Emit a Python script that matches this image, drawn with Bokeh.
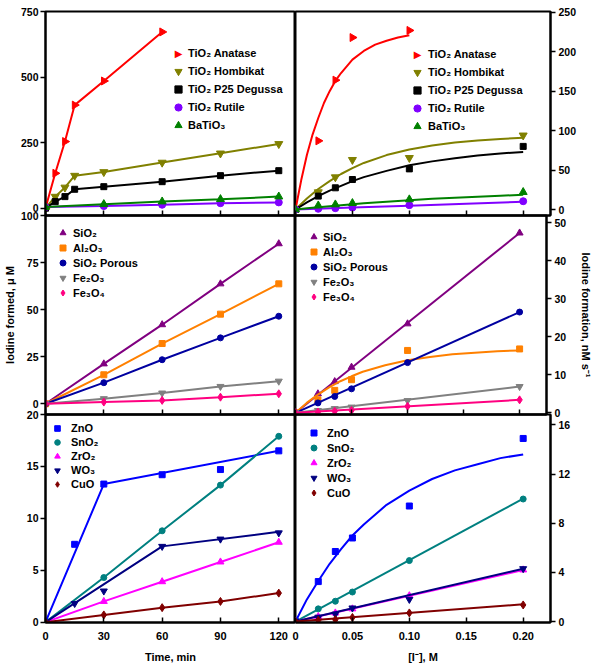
import math
from bokeh.plotting import figure
from bokeh.layouts import row, column
from bokeh.models import (Legend, LegendItem, FixedTicker, Range1d,
                          CustomJSTickFormatter, Label)
from bokeh.embed import file_html
from bokeh.resources import INLINE

FONT = "Liberation Sans"

# ====================== DATA ======================
# Top-left: iodine formed (uM) vs time (min) - TiO2 family
time_anatase = [0, 5, 10, 15, 30, 60]
anatase_time = [0, 133, 254, 393, 485, 672]
time_tio2 = [0, 5, 10, 15, 30, 60, 90, 120]
hombikat_time = [0, 44, 79, 124, 138, 174, 209, 245]
p25_time = [0, 25, 44, 72, 82, 101, 124, 143]
time_long = [0, 30, 60, 90, 120]
rutile_time = [4, 8, 13, 19, 22]
batio3_time = [4, 15, 25, 34, 44]

# Top-right: iodine formation rate (nM/s) vs [I-] (M)
conc = [0, 0.02, 0.035, 0.05, 0.10, 0.20]
conc_anatase = [0, 0.02, 0.035, 0.05, 0.10]
anatase_rate = [0, 87, 164, 218, 227]
hombikat_rate = [0, 22, 41, 63, 65.5, 94]
p25_rate = [0, 17, 27.5, 38, 51.5, 80]
batio3_rate = [0, 5, 6.3, 8, 12.7, 22]
rutile_rate = [0, 0.9, 1.7, 2.5, 5.5, 10.5]
# fitted curves
curve_conc_short = [0, 0.005, 0.01, 0.015, 0.02, 0.025, 0.03, 0.035, 0.04, 0.05, 0.06, 0.07, 0.08, 0.09, 0.10]
anatase_curve = [0, 37, 69, 95, 116, 135, 150, 163, 173, 190, 201, 209, 214, 218, 221]
curve_conc = [0, 0.01, 0.02, 0.03, 0.04, 0.05, 0.06, 0.08, 0.10, 0.12, 0.14, 0.16, 0.18, 0.20]
hombikat_curve = [0, 14, 26, 36, 45, 52.5, 59, 69, 76, 81, 85, 87.5, 89.5, 91]
p25_curve = [0, 9, 17, 24, 30, 36, 41, 49, 56, 61, 65, 68.5, 71, 73]
batio3_curve = [0, 1.5, 2.9, 4.2, 5.5, 6.7, 7.9, 9.9, 11.8, 13.5, 15.0, 16.3, 17.5, 18.6]
line_conc = [0, 0.05, 0.10, 0.15, 0.20]
rutile_curve = [0, 2.5, 4.9, 7.3, 9.7]

# Middle-left: iodine formed (uM) vs time (min)
time_mid = [0, 30, 60, 90, 120]
sio2_time = [0, 21.2, 42, 63.7, 85]
al2o3_time = [0, 15.4, 32, 47.6, 63.7]
sio2p_time = [0, 11.2, 23.4, 35, 46.5]
fe2o3_time = [0, 2.7, 5.7, 9.2, 12]
fe3o4_time = [0, 0.9, 1.8, 3.5, 5.3]

# Middle-right: rate vs [I-]
sio2_rate = [0, 5, 8.2, 12, 23.4, 47.3]
al2o3_rate = [0, 3.4, 5.9, 8.7, 16.4, 16.8]
sio2p_rate = [0, 2.6, 4.3, 6.3, 13.2, 26.5]
fe2o3_rate = [0, 0.6, 1.1, 1.5, 3.2, 6.9]
fe3o4_rate = [0, 0.2, 0.4, 0.6, 1.7, 3.4]
fit_ends = [0, 0.20]
sio2_fit = [0, 47.3]
sio2p_fit = [0, 26.5]
fe2o3_fit = [0, 6.9]
fe3o4_fit = [0, 3.4]
al2o3_curve = [0, 2.6, 4.8, 6.7, 8.3, 9.6, 10.8, 12.5, 13.8, 14.7, 15.4, 15.8, 16.2, 16.4]

# Bottom-left: iodine formed (uM) vs time (min)
time_bot = [0, 15, 30, 60, 90, 120]
zno_time = [0, 7.5, 13.3, 14.2, 14.7, 16.5]
zno_line_t = [0, 30, 120]
zno_line = [0, 13.3, 16.5]
sno2_time = [0, 4.3, 8.8, 13.2, 17.9]
zro2_time = [0, 2.0, 3.9, 5.8, 7.7]
wo3_time = [0, 1.8, 3.0, 7.3, 8.0, 8.6]
wo3_line_t = [0, 60, 120]
wo3_line = [0, 7.3, 8.7]
cuo_time = [0, 0.7, 1.4, 2.0, 2.8]

# Bottom-right: rate vs [I-]
zno_rate = [0, 3.25, 5.7, 6.8, 9.4, 14.9]
zno_curve = [0, 1.8, 3.3, 4.7, 5.9, 7.0, 7.9, 9.5, 10.65, 11.6, 12.3, 12.8, 13.3, 13.6]
sno2_rate = [0, 1.03, 1.65, 2.4, 4.96, 9.97]
zro2_rate = [0, 0.4, 0.7, 1.03, 2.1, 4.2]
wo3_rate = [0, 0.35, 0.6, 1.1, 1.8, 4.3]
cuo_rate = [0, 0.1, 0.15, 0.33, 0.7, 1.35]
sno2_fit = [0, 10.0]
zro2_fit = [0, 4.2]
wo3_fit = [0, 4.3]
cuo_fit = [0, 1.4]

# ticks
time_ticks = [0, 30, 60, 90, 120]
conc_ticks = [0, 0.05, 0.10, 0.15, 0.20]
yt_tl = [0, 250, 500, 750]
yt_tr = [0, 50, 100, 150, 200, 250]
yt_ml = [0, 25, 50, 75, 100]
yt_mr = [0, 10, 20, 30, 40, 50]
yt_bl = [0, 5, 10, 15, 20]
yt_br = [0, 4, 8, 12, 16]

# colours
RED, OLIVE, BLACK, VIOLET, GREEN = "#FF0000", "#808000", "#000000", "#8000FF", "#008000"
PURPLE, ORANGE, NAVYBLUE, GRAY, PINK = "#800080", "#FF8000", "#0000A0", "#808080", "#FF0080"
BLUE, TEAL, MAGENTA, NAVY, MAROON = "#0000FF", "#008080", "#FF00FF", "#000080", "#800000"

# layout (px)
LB, RB = 45, 45            # left / right outer borders
LEFT_FW, RIGHT_FW = 250, 255
PAD = 8                    # overlap pad between neighbouring canvases


def make_fig(xr, yr, fh, left, top_pad, bottom_pad, xticks, yticks, xlabels, **kw):
    fw = LEFT_FW if left else RIGHT_FW
    bl = LB if left else PAD
    br = 0 if left else RB
    p = figure(width=bl + fw + br, height=top_pad + fh + bottom_pad,
               x_range=Range1d(*xr), y_range=Range1d(*yr),
               y_axis_location="left" if left else "right",
               toolbar_location=None, output_backend="svg", title=None,
               min_border_left=bl, min_border_right=br,
               min_border_top=top_pad, min_border_bottom=bottom_pad,
               background_fill_color=None, border_fill_color=None,
               outline_line_color="black", outline_line_width=2, **kw)
    p.grid.visible = False
    xa, ya = p.xaxis[0], p.yaxis[0]
    for ax in (xa, ya):
        ax.axis_line_width = 2
        ax.axis_line_color = "black"
        ax.major_tick_line_width = 1.5
        ax.major_tick_line_color = "black"
        ax.minor_tick_line_color = None
        ax.major_label_text_font = FONT
        ax.major_label_text_font_style = "bold"
        ax.major_label_text_color = "black"
        ax.axis_label_text_font = FONT
        ax.axis_label_text_font_style = "bold"
        ax.axis_label_text_font_size = "11px"
        ax.axis_label_text_color = "black"
    xa.ticker = FixedTicker(ticks=xticks)
    ya.ticker = FixedTicker(ticks=yticks)
    xa.major_tick_in = 5
    xa.major_tick_out = 0
    ya.major_tick_in = 0
    ya.major_tick_out = 5
    ya.major_label_text_font_size = "10.5px"
    ya.major_label_standoff = 2 if left else 3
    if xlabels:
        xa.major_label_text_font_size = "11px"
        xa.major_label_standoff = 9
        xa.axis_label_standoff = 8
    else:
        xa.major_label_text_font_size = "0px"
        xa.major_label_text_alpha = 0
        xa.major_label_standoff = 0
    return p


def series(p, xs, ys, color, marker, size, lx=None, ly=None, angle=0.0):
    if lx is not None:
        p.line(lx, ly, line_color=color, line_width=2)
    return p.scatter(xs, ys, marker=marker, size=size, fill_color=color,
                     line_color=color, angle=angle)


def add_legend(p, items, x, y, rowh, standoff):
    lg = Legend(items=[LegendItem(label=l, renderers=[r]) for l, r in items],
                location=(x, y), glyph_width=rowh, glyph_height=rowh,
                label_height=rowh, spacing=0, padding=0, margin=0,
                label_standoff=standoff, background_fill_alpha=0,
                border_line_alpha=0, label_text_font=FONT,
                label_text_font_style="bold", label_text_font_size="11px",
                label_text_color="black")
    p.add_layout(lg)


def right_arrow_key(p, x, y, rowh):
    # legend key for the right-pointing triangle of TiO2 Anatase (first legend row)
    ghost = p.scatter(x=[], y=[], marker="triangle", fill_alpha=0, line_alpha=0)
    p.add_layout(Label(x=x + rowh / 2, y=y + 4.5 * rowh, x_units="screen", y_units="screen",
                       text="▶", text_color=RED, text_align="center",
                       text_baseline="middle", text_font_size="10px",
                       text_font="DejaVu Sans"))
    return ghost


XR_T = (0, 128.6)
XR_C = (0, 0.224)

# ---------- top-left ----------
p_tl = make_fig(XR_T, (-28, 750), 204, True, 11, PAD, time_ticks, yt_tl, False)
r1 = series(p_tl, time_anatase, anatase_time, RED, "triangle", 8, time_anatase, anatase_time, angle=-math.pi / 2)
r2 = series(p_tl, time_tio2, hombikat_time, OLIVE, "inverted_triangle", 8, time_tio2, hombikat_time)
r3 = series(p_tl, time_tio2, p25_time, BLACK, "square", 6, time_tio2, p25_time)
r4 = series(p_tl, time_long, rutile_time, VIOLET, "circle", 7, time_long, rutile_time)
r5 = series(p_tl, time_long, batio3_time, GREEN, "triangle", 8, time_long, batio3_time)
k1 = right_arrow_key(p_tl, 124, 81, 18)
add_legend(p_tl, [("TiO₂ Anatase", k1), ("TiO₂ Hombikat", r2), ("TiO₂ P25 Degussa", r3),
                  ("TiO₂ Rutile", r4), ("BaTiO₃", r5)], 124, 81, 18, 1)

# ---------- top-right ----------
p_tr = make_fig(XR_C, (-7.6, 251), 204, False, 11, PAD, conc_ticks, yt_tr, False, margin=(0, 0, 0, -PAD))
q1 = series(p_tr, conc_anatase, anatase_rate, RED, "triangle", 8, curve_conc_short, anatase_curve, angle=-math.pi / 2)
q2 = series(p_tr, conc, hombikat_rate, OLIVE, "inverted_triangle", 8, curve_conc, hombikat_curve)
q3 = series(p_tr, conc, p25_rate, BLACK, "square", 6, curve_conc, p25_curve)
q4 = series(p_tr, conc, rutile_rate, VIOLET, "circle", 7, line_conc, rutile_curve)
q5 = series(p_tr, conc, batio3_rate, GREEN, "triangle", 8, curve_conc, batio3_curve)
k2 = right_arrow_key(p_tr, 113, 80, 18)
add_legend(p_tr, [("TiO₂ Anatase", k2), ("TiO₂ Hombikat", q2), ("TiO₂ P25 Degussa", q3),
                  ("TiO₂ Rutile", q4), ("BaTiO₃", q5)], 113, 80, 18, 2)

# ---------- middle-left ----------
p_ml = make_fig(XR_T, (-5.7, 100), 199, True, PAD, PAD, time_ticks, yt_ml, False)
p_ml.yaxis[0].axis_label = "Iodine formed, μ M"
p_ml.yaxis[0].axis_label_standoff = 2
m1 = series(p_ml, time_mid, sio2_time, PURPLE, "triangle", 7, time_mid, sio2_time)
m2 = series(p_ml, time_mid, al2o3_time, ORANGE, "square", 6, time_mid, al2o3_time)
m3 = series(p_ml, time_mid, sio2p_time, NAVYBLUE, "circle", 6, time_mid, sio2p_time)
m4 = series(p_ml, time_mid, fe2o3_time, GRAY, "inverted_triangle", 7, time_mid, fe2o3_time)
m5 = series(p_ml, time_mid, fe3o4_time, PINK, "diamond", 8, time_mid, fe3o4_time)
add_legend(p_ml, [("SiO₂", m1), ("Al₂O₃", m2), ("SiO₂ Porous", m3), ("Fe₂O₃", m4),
                  ("Fe₃O₄", m5)], 10, 114, 15, 3)

# ---------- middle-right ----------
p_mr = make_fig(XR_C, (-0.45, 51.9), 199, False, PAD, PAD, conc_ticks, yt_mr, False, margin=(0, 0, 0, -PAD))
p_mr.yaxis[0].axis_label = "Iodine formation, nM s⁻¹"
p_mr.yaxis[0].axis_label_standoff = 11
n1 = series(p_mr, conc, sio2_rate, PURPLE, "triangle", 7, fit_ends, sio2_fit)
n2 = series(p_mr, conc, al2o3_rate, ORANGE, "square", 6, curve_conc, al2o3_curve)
n3 = series(p_mr, conc, sio2p_rate, NAVYBLUE, "circle", 6, fit_ends, sio2p_fit)
n4 = series(p_mr, conc, fe2o3_rate, GRAY, "inverted_triangle", 7, fit_ends, fe2o3_fit)
n5 = series(p_mr, conc, fe3o4_rate, PINK, "diamond", 8, fit_ends, fe3o4_fit)
add_legend(p_mr, [("SiO₂", n1), ("Al₂O₃", n2), ("SiO₂ Porous", n3), ("Fe₂O₃", n4),
                  ("Fe₃O₄", n5)], 11, 110, 15, 2)

# ---------- bottom-left ----------
p_bl = make_fig(XR_T, (-0.03, 20), 208, True, PAD, 45, time_ticks, yt_bl, True)
p_bl.xaxis[0].axis_label = "Time, min"
b1 = series(p_bl, time_bot, zno_time, BLUE, "square", 6, zno_line_t, zno_line)
b2 = series(p_bl, time_mid, sno2_time, TEAL, "circle", 6, time_mid, sno2_time)
b3 = series(p_bl, time_mid, zro2_time, MAGENTA, "triangle", 7, time_mid, zro2_time)
b4 = series(p_bl, time_bot, wo3_time, NAVY, "inverted_triangle", 7, wo3_line_t, wo3_line)
b5 = series(p_bl, time_mid, cuo_time, MAROON, "diamond", 8, time_mid, cuo_time)
add_legend(p_bl, [("ZnO", b1), ("SnO₂", b2), ("ZrO₂", b3), ("WO₃", b4), ("CuO", b5)], 5, 131, 14, 7)

# ---------- bottom-right ----------
p_br = make_fig(XR_C, (-0.08, 16.85), 208, False, PAD, 45, conc_ticks, yt_br, True, margin=(0, 0, 0, -PAD))
p_br.xaxis[0].axis_label = "[I⁻], M"
p_br.xaxis[0].formatter = CustomJSTickFormatter(code="return tick == 0 ? '0' : tick.toFixed(2);")
c1 = series(p_br, conc, zno_rate, BLUE, "square", 6, curve_conc, zno_curve)
c2 = series(p_br, conc, sno2_rate, TEAL, "circle", 6, fit_ends, sno2_fit)
c3 = series(p_br, conc, zro2_rate, MAGENTA, "triangle", 7, fit_ends, zro2_fit)
c4 = series(p_br, conc, wo3_rate, NAVY, "inverted_triangle", 7, fit_ends, wo3_fit)
c5 = series(p_br, conc, cuo_rate, MAROON, "diamond", 8, fit_ends, cuo_fit)
add_legend(p_br, [("ZnO", c1), ("SnO₂", c2), ("ZrO₂", c3), ("WO₃", c4), ("CuO", c5)], 11, 122, 15, 6)

layout = column(
    row(p_tl, p_tr),
    row(p_ml, p_mr, margin=(-2 * PAD, 0, 0, 0)),
    row(p_bl, p_br, margin=(-2 * PAD, 0, 0, 0)),
)

open("out.html", "w").write(file_html(layout, INLINE))
